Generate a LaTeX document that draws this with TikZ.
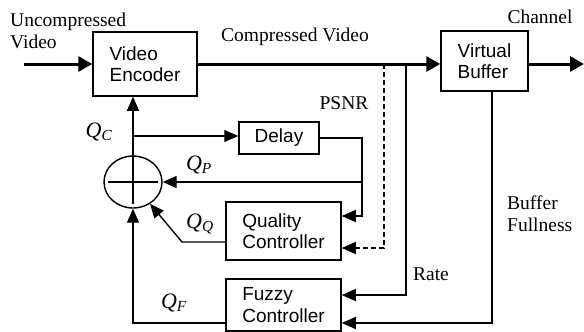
\documentclass[tikz,border=0pt]{standalone}
\usepackage{fontspec}
\setmainfont{Liberation Serif}
\newfontfamily\boxfont{Liberation Sans}
\usepackage{tikz}
\usetikzlibrary{arrows.meta,positioning,calc,shapes.geometric}
\usepackage{xcolor}

\begin{document}
\begin{tikzpicture}[x=1pt,y=-1pt,
    block/.style={draw,line width=1.5pt,font=\boxfont\fontsize{19}{21.5}\selectfont,align=left,inner sep=0pt},
    lbl/.style={font=\fontsize{19.5}{22}\selectfont,align=left,inner sep=0pt},
    qlbl/.style={font=\fontsize{22}{24}\selectfont\itshape,inner sep=0pt},
    arr/.style={-{Triangle[length=14pt,width=12pt]},line width=1.4pt},
    thickarr/.style={-{Triangle[length=14pt,width=15pt]},line width=3pt}]
    \useasboundingbox (0,0) rectangle (584,332);
    % blocks
    \node[block,minimum width=104pt,minimum height=64pt] (enc) at (145,64) {Video\\Encoder};
    \node[block,minimum width=87pt,minimum height=60pt] (buf) at (484.5,61) {Virtual\\Buffer};
    \node[block,minimum width=80pt,minimum height=32pt] (dl) at (279,138) {Delay};
    \node[block,minimum width=115pt,minimum height=58pt] (ql) at (283.5,231) {Quality\\Controller};
    \node[block,minimum width=115pt,minimum height=52pt] (fz) at (283.5,305) {Fuzzy\\Controller};
    \node[ellipse,draw,line width=1.4pt,minimum width=58pt,minimum height=52pt,inner sep=0pt] (sum) at (133,182) {};
    \draw[line width=1.4pt] (sum.north) -- ([yshift=5pt]sum.south);
    \draw[line width=1.4pt] ([xshift=5pt]sum.west) -- ([xshift=-5pt]sum.east);
    % free ends and taps
    \coordinate (vin) at (24,64);
    \coordinate (vout) at (584,64);
    \coordinate (psnr) at (384,64);
    \coordinate (rate) at (406,64);
    \coordinate (qc) at (133,136);
    \coordinate (qp) at (362,182);
    \coordinate (qbend) at (182,242);
    % main path
    \draw[thickarr] (vin) -- (enc.west);
    \draw[thickarr] (enc.east) -- (enc.east -| buf.west);
    \draw[thickarr] (enc.east -| buf.east) -- (vout);
    % feedback
    \draw[arr] (sum.north) -- (sum.north |- enc.south);
    \draw[arr] (qc) -- (qc -| dl.west);
    \draw[arr] (dl.east) -| (qp) |- ([yshift=15pt]ql.east);
    \draw[arr] (qp) -- (sum.east);
    \draw[arr,dash pattern=on 5pt off 3pt] (psnr) |- ([yshift=-17pt]ql.east);
    \draw[arr] (rate) |- ([yshift=10pt]fz.east);
    \draw[arr] ([xshift=7.5pt]buf.south) |- ([yshift=-18pt]fz.east);
    \draw[arr] ([yshift=-11pt]ql.west) -- (qbend) -- (sum.-52);
    \draw[arr] ([yshift=-18pt]fz.west) -| (sum.south);
    % labels
    \node[lbl,anchor=north west] (unc) at (10,13) {Uncompressed\\Video};
    \node[lbl] (cvid) at (295,37) {Compressed Video};
    \node[lbl] (chan) at (540,17) {Channel};
    \node[lbl] (psnrl) at (344,103) {PSNR};
    \node[lbl] (ratel) at (431,274) {Rate};
    \node[lbl,anchor=west] (bfl) at (507,214) {Buffer\\Fullness};
    \node[qlbl] (qcl) at (99,132) {Q\textsubscript{C}};
    \node[qlbl] (qpl) at (199,165) {Q\textsubscript{P}};
    \node[qlbl] (qql) at (200,224) {Q\textsubscript{Q}};
    \node[qlbl] (qfl) at (174,303) {Q\textsubscript{F}};
\end{tikzpicture}
\end{document}
